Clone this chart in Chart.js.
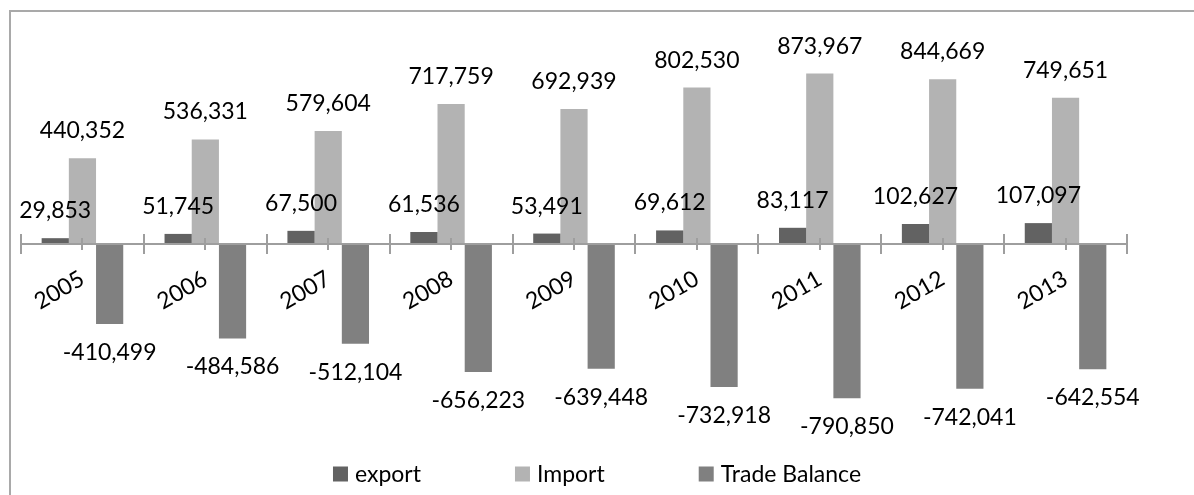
<!DOCTYPE html>
<html>
<head>
<meta charset="utf-8">
<script src="https://cdn.jsdelivr.net/npm/chart.js@4.4.1/dist/chart.umd.min.js"></script>
<style>
  html, body { margin: 0; padding: 0; background: #ffffff; }
  #wrap { position: relative; width: 1194px; height: 495px; overflow: hidden; }
  #frame { position: absolute; left: 9px; top: 10px; width: 1300px; height: 600px;
           border-left: 2px solid #a9a9a9; border-top: 2px solid #a9a9a9; box-sizing: border-box; }
  #c { position: absolute; left: 0; top: 0; }
</style>
</head>
<body>
<div id="wrap">
  <div id="frame"></div>
  <canvas id="c" width="1194" height="495"></canvas>
</div>
<script>
const categories = ['2005', '2006', '2007', '2008', '2009', '2010', '2011', '2012', '2013'];
const seriesNames = ['export', 'Import', 'Trade Balance'];
const exportValues = [29853, 51745, 67500, 61536, 53491, 69612, 83117, 102627, 107097];
const importValues = [440352, 536331, 579604, 717759, 692939, 802530, 873967, 844669, 749651];
const balanceValues = [-410499, -484586, -512104, -656223, -639448, -732918, -790850, -742041, -642554];
const seriesColors = ['#626262', '#b3b3b3', '#808080'];

const FONT = 'Lato, "Open Sans", "DejaVu Sans", sans-serif';
const FONT_SIZE = 23;

const axisPlugin = {
  id: 'axisPlugin',
  afterDatasetsDraw(chart) {
    const ctx = chart.ctx;
    const xs = chart.scales.x;
    const ys = chart.scales.y;
    const y0 = ys.getPixelForValue(0);
    const n = categories.length;
    const half = (xs.getPixelForTick(1) - xs.getPixelForTick(0)) / 2;
    const left = xs.getPixelForTick(0) - half;
    const right = xs.getPixelForTick(n - 1) + half;
    ctx.save();
    ctx.strokeStyle = '#9e9e9e';
    ctx.lineWidth = 2;
    ctx.beginPath();
    ctx.moveTo(left, y0);
    ctx.lineTo(right, y0);
    for (let i = 0; i <= n; i++) {
      const x = Math.round(left + i * 2 * half);
      ctx.moveTo(x, y0 - 10);
      ctx.lineTo(x, y0 + 10);
    }
    for (let i = 0; i < n; i++) {
      const x = Math.round(xs.getPixelForTick(i));
      ctx.moveTo(x, y0 - 6);
      ctx.lineTo(x, y0 + 6);
    }
    ctx.stroke();
    ctx.restore();
  }
};

const labelPlugin = {
  id: 'labelPlugin',
  afterDatasetsDraw(chart) {
    const ctx = chart.ctx;
    ctx.save();
    ctx.font = FONT_SIZE + 'px ' + FONT;
    ctx.fillStyle = '#000000';
    ctx.textAlign = 'center';
    ctx.textBaseline = 'alphabetic';
    chart.data.datasets.forEach((ds, di) => {
      const meta = chart.getDatasetMeta(di);
      meta.data.forEach((bar, i) => {
        const v = ds.data[i];
        const txt = v.toLocaleString('en-US');
        if (v >= 0) {
          ctx.fillText(txt, bar.x, bar.y - 20);
        } else {
          ctx.fillText(txt, bar.x, bar.y + 36);
        }
      });
    });
    ctx.restore();
  }
};

const legendPlugin = {
  id: 'legendPlugin',
  afterDraw(chart) {
    const ctx = chart.ctx;
    ctx.save();
    ctx.font = FONT_SIZE + 'px ' + FONT;
    const box = 15, gapBoxText = 7, gapItems = 94;
    const items = chart.data.datasets.map(ds => ({
      text: ds.label, color: ds.backgroundColor, w: ctx.measureText(ds.label).width
    }));
    let total = 0;
    items.forEach((it, i) => { total += box + gapBoxText + it.w + (i < items.length - 1 ? gapItems : 0); });
    let x = (chart.width - total) / 2;
    const cy = 474;
    ctx.textBaseline = 'middle';
    ctx.textAlign = 'left';
    items.forEach(it => {
      ctx.fillStyle = it.color;
      ctx.fillRect(x, cy - box / 2, box, box);
      ctx.fillStyle = '#000000';
      ctx.fillText(it.text, x + box + gapBoxText, cy + 1);
      x += box + gapBoxText + it.w + gapItems;
    });
    ctx.restore();
  }
};

new Chart(document.getElementById('c'), {
  type: 'bar',
  data: {
    labels: categories,
    datasets: [
      { label: seriesNames[0], data: exportValues, backgroundColor: seriesColors[0] },
      { label: seriesNames[1], data: importValues, backgroundColor: seriesColors[1] },
      { label: seriesNames[2], data: balanceValues, backgroundColor: seriesColors[2] }
    ]
  },
  options: {
    responsive: false,
    animation: false,
    devicePixelRatio: 1,
    layout: { padding: { left: 21, right: 67, top: 49, bottom: 56 } },
    datasets: { bar: { categoryPercentage: 0.664, barPercentage: 1.0, borderWidth: 0 } },
    plugins: { legend: { display: false }, tooltip: { enabled: false } },
    scales: {
      y: { display: false, min: -1000000, max: 1000000 },
      x: {
        position: { y: 0 },
        offset: true,
        grid: { display: false },
        border: { display: false },
        ticks: {
          autoSkip: false,
          minRotation: 30,
          maxRotation: 30,
          padding: 13,
          color: '#000000',
          font: { family: FONT, size: FONT_SIZE }
        }
      }
    }
  },
  plugins: [axisPlugin, labelPlugin, legendPlugin]
});
</script>
</body>
</html>
